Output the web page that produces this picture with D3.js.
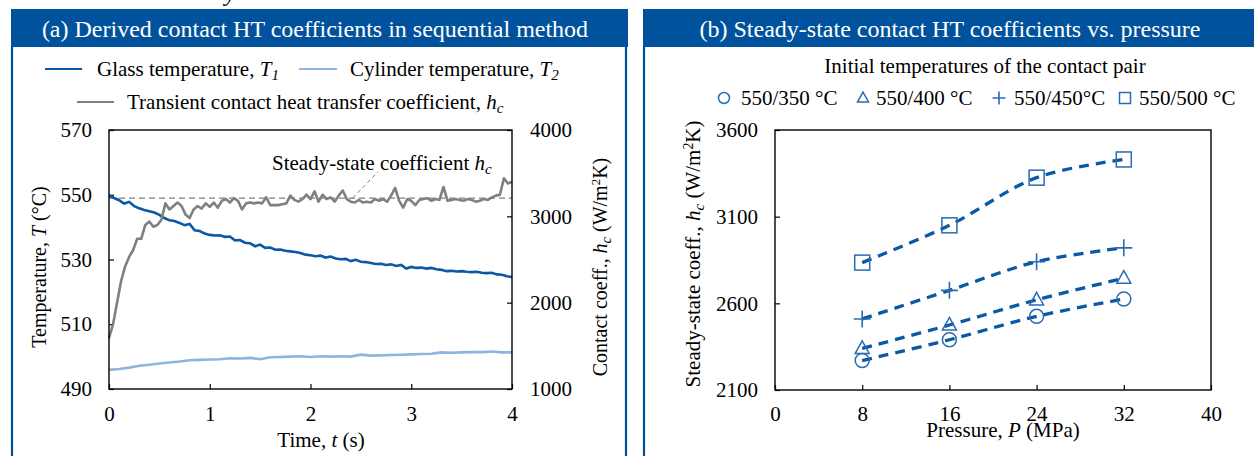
<!DOCTYPE html>
<html><head><meta charset="utf-8">
<script src="https://cdn.jsdelivr.net/npm/d3@7"></script>
<style>
body{margin:0;background:#fff;}
svg{display:block;font-family:"Liberation Serif","Times New Roman",serif;}
</style></head><body>
<svg id="c" width="1254" height="456"></svg>
<script>
// ---------- Panel (a) data ----------
const hcStep = 0.04; // s
const hcValues = [1590,1750,2000,2250,2420,2530,2610,2740,2740,2900,2940,2880,2900,2960,3150,3080,3120,3160,3120,3020,
  2980,3080,3120,3090,3150,3110,3160,3100,3180,3200,3160,3210,3180,3080,3150,3160,3150,3160,3150,3220,
  3130,3130,3130,3140,3150,3240,3190,3170,3200,3250,3200,3290,3170,3250,3200,3220,3170,3240,3300,3200,
  3170,3160,3190,3160,3170,3160,3200,3180,3200,3170,3240,3330,3180,3100,3200,3180,3130,3190,3200,3210,
  3180,3200,3190,3340,3180,3190,3200,3190,3180,3200,3190,3170,3180,3200,3190,3220,3240,3250,3440,3380,3400];
const glassStep = 0.05;
const glassTemp = [549.8,549.0,548.3,547.3,547.8,546.5,545.8,545.3,544.9,544.5,543.8,542.8,542.1,541.9,541.3,540.6,541.0,539.0,538.8,538.0,
  537.6,537.4,537.5,537.0,537.1,535.9,536.0,535.2,535.0,534.1,534.6,533.6,533.7,533.0,533.1,532.7,532.5,532.3,532.0,531.5,
  531.3,531.0,531.2,530.6,530.9,530.3,530.1,530.2,529.5,529.9,529.3,529.2,528.9,528.6,528.7,528.3,528.5,528.0,528.3,527.2,
  527.7,527.4,527.5,527.2,527.4,527.0,526.8,526.4,526.5,526.3,526.4,526.2,526.1,526.2,525.9,525.8,525.9,525.4,525.3,524.8,524.6];
const cylStep = 0.1;
const cylTemp = [495.9,496.2,496.6,497.2,497.5,497.9,498.2,498.5,498.9,499.0,499.1,499.2,499.5,499.4,499.6,499.2,499.8,499.9,500.0,500.1,
  499.9,500.1,500.0,500.1,500.0,500.6,500.3,500.4,500.5,500.6,500.7,500.8,500.9,501.3,501.2,501.3,501.4,501.4,501.6,501.3,501.3];
const steadyHc = 3210;
const timeTicks = [0,1,2,3,4];
const tempTicks = [490,510,530,550,570];
const hcTicks = [1000,2000,3000,4000];

// ---------- Panel (b) data ----------
const pressures = [8,16,24,32];
const hc350 = [2270,2390,2525,2625];
const hc400 = [2340,2475,2620,2745];
const hc450 = [2510,2675,2840,2920];
const hc500 = [2835,3050,3325,3430];
const pressureTicks = [0,8,16,24,32,40];
const steadyTicks = [2100,2600,3100,3600];
const seriesLabels = ["550/350 °C","550/400 °C","550/450°C","550/500 °C"];

const HEAD = "#00529c";
const DARK = "#0a58a6";
const LIGHT = "#8fb4df";
const GRAY = "#808080";
const MARK = "#2a6bb3";
const FONT = 21;

const svg = d3.select("#c");

// stray glyph at top (cropped text above)
svg.append("text").attr("x",225).attr("y",1).attr("font-size",24).attr("font-style","italic").text("y");

// ---------- frames ----------
function frame(x0, x1, title, cx){
  svg.append("rect").attr("x",x0).attr("y",9).attr("width",x1-x0).attr("height",38).attr("fill",HEAD);
  svg.append("line").attr("x1",x0+1).attr("x2",x0+1).attr("y1",46).attr("y2",456).attr("stroke",HEAD).attr("stroke-width",2.2);
  svg.append("text").attr("x",cx).attr("y",37).attr("text-anchor","middle").attr("fill","#fff").attr("font-size",24).text(title);
}
frame(11, 628, "(a) Derived contact HT coefficients in sequential method", 315);
svg.append("line").attr("x1",626).attr("x2",626).attr("y1",46).attr("y2",456).attr("stroke",HEAD).attr("stroke-width",2.2);
frame(643, 1254, "(b) Steady-state contact HT coefficients vs. pressure", 950);

// helper for rich text with italics/subscripts
function rich(g, x, y, parts, opts={}){
  const size = opts.size||21;
  const t = g.append("text").attr("x",x).attr("y",y).attr("font-size",size);
  if(opts.anchor) t.attr("text-anchor",opts.anchor);
  if(opts.transform) t.attr("transform",opts.transform);
  parts.forEach(p=>{
    const s = t.append("tspan").text(p.t);
    if(p.i) s.attr("font-style","italic");
    if(p.sub) s.attr("baseline-shift","-25%").attr("font-size",size*0.72);
    if(p.sup) s.attr("baseline-shift","super").attr("font-size",size*0.65);
  });
  return t;
}

// ---------- Panel (a) ----------
const ax = {l:109, r:512, t:130, b:389};
const x = d3.scaleLinear().domain([0,4]).range([ax.l, ax.r]);
const yT = d3.scaleLinear().domain([490,570]).range([ax.b, ax.t]);
const yH = d3.scaleLinear().domain([1000,4000]).range([ax.b, ax.t]);
const ga = svg.append("g");

function styleAxis(g){
  g.select(".domain").remove();
  g.selectAll(".tick line").attr("stroke","#000").attr("stroke-width",1.2);
  g.selectAll(".tick text").attr("font-size",FONT).attr("font-family","Liberation Serif").attr("fill","#000");
}
ga.append("g").attr("transform",`translate(0,${ax.b})`)
  .call(d3.axisBottom(x).tickValues(timeTicks).tickFormat(d3.format("d")).tickSizeInner(-5).tickSizeOuter(0).tickPadding(17)).call(styleAxis);
ga.append("g").attr("transform",`translate(${ax.l},0)`)
  .call(d3.axisLeft(yT).tickValues(tempTicks).tickFormat(d3.format("d")).tickSizeInner(-5).tickSizeOuter(0).tickPadding(17)).call(styleAxis);
ga.append("g").attr("transform",`translate(${ax.r},0)`)
  .call(d3.axisRight(yH).tickValues(hcTicks).tickFormat(d3.format("d")).tickSizeInner(-5).tickSizeOuter(0).tickPadding(18)).call(styleAxis);

// steady-state dashed line
ga.append("line").attr("x1",x(0)).attr("x2",x(4)).attr("y1",yH(steadyHc)).attr("y2",yH(steadyHc))
  .attr("stroke",GRAY).attr("stroke-width",1.2).attr("stroke-dasharray","6,4");

const hcData = hcValues.map((v,i)=>[i*hcStep, v]);
const glassData = glassTemp.map((v,i)=>[i*glassStep, v]);
const cylData = cylTemp.map((v,i)=>[i*cylStep, v]);

ga.append("path").datum(cylData).attr("fill","none").attr("stroke",LIGHT).attr("stroke-width",2.6)
  .attr("d", d3.line().x(d=>x(d[0])).y(d=>yT(d[1])));
ga.append("path").datum(glassData).attr("fill","none").attr("stroke",DARK).attr("stroke-width",2.6)
  .attr("d", d3.line().x(d=>x(d[0])).y(d=>yT(d[1])));
ga.append("path").datum(hcData).attr("fill","none").attr("stroke",GRAY).attr("stroke-width",2.6).attr("stroke-linejoin","round")
  .attr("d", d3.line().x(d=>x(d[0])).y(d=>yH(d[1])));

// annotation
ga.append("line").attr("x1",x(2.42)).attr("y1",yH(3214)).attr("x2",x(2.67)).attr("y2",yH(3515))
  .attr("stroke",GRAY).attr("stroke-width",1).attr("stroke-dasharray","4,3");
rich(ga, 272, 170, [{t:"Steady-state coefficient "},{t:"h",i:1},{t:"c",i:1,sub:1}]);

// frame
ga.append("rect").attr("x",ax.l).attr("y",ax.t).attr("width",ax.r-ax.l).attr("height",ax.b-ax.t)
  .attr("fill","none").attr("stroke","#000").attr("stroke-width",1.4);

// axis titles
rich(ga, 321, 447, [{t:"Time, "},{t:"t",i:1},{t:" (s)"}], {anchor:"middle"});
rich(ga, 0, 0, [{t:"Temperature, "},{t:"T",i:1},{t:" (°C)"}], {size:20, anchor:"middle", transform:"translate(46,267) rotate(-90)"});
rich(ga, 0, 0, [{t:"Contact coeff., "},{t:"h",i:1},{t:"c",i:1,sub:1},{t:" (W/m"},{t:"2",sup:1},{t:"K)"}], {size:20, anchor:"middle", transform:"translate(607,267) rotate(-90)"});

// legend (a)
function legLine(x1,x2,y,c){ ga.append("line").attr("x1",x1).attr("x2",x2).attr("y1",y).attr("y2",y).attr("stroke",c).attr("stroke-width",2.2); }
legLine(45,82,69,DARK);
rich(ga, 97, 76, [{t:"Glass temperature, "},{t:"T",i:1},{t:"1",i:1,sub:1}]);
legLine(299,337,69,LIGHT);
rich(ga, 350, 76, [{t:"Cylinder temperature, "},{t:"T",i:1},{t:"2",i:1,sub:1}]);
legLine(77,114,102,GRAY);
rich(ga, 127, 109, [{t:"Transient contact heat transfer coefficient, "},{t:"h",i:1},{t:"c",i:1,sub:1}]);

// ---------- Panel (b) ----------
const bx = {l:775, r:1211, t:130, b:390};
const xP = d3.scaleLinear().domain([0,40]).range([bx.l, bx.r]);
const yS = d3.scaleLinear().domain([2100,3600]).range([bx.b, bx.t]);
const gb = svg.append("g");
gb.append("g").attr("transform",`translate(0,${bx.b})`)
  .call(d3.axisBottom(xP).tickValues(pressureTicks).tickFormat(d3.format("d")).tickSizeInner(-5).tickSizeOuter(0).tickPadding(16)).call(styleAxis);
gb.append("g").attr("transform",`translate(${bx.l},0)`)
  .call(d3.axisLeft(yS).tickValues(steadyTicks).tickFormat(d3.format("d")).tickSizeInner(-5).tickSizeOuter(0).tickPadding(17)).call(styleAxis);

const seriesB = [hc350,hc400,hc450,hc500];
const line = d3.line().x((d,i)=>xP(pressures[i])).y(d=>yS(d)).curve(d3.curveCatmullRom.alpha(0.5));

function marker(g, k, cx, cy, s){
  if(k===0){ g.append("circle").attr("cx",cx).attr("cy",cy).attr("r",s/2).attr("fill","none").attr("stroke",MARK).attr("stroke-width",1.5); }
  else if(k===1){ const h=s*0.9; g.append("path").attr("d",`M${cx},${cy-h*0.6}L${cx+s/2},${cy+h*0.4}L${cx-s/2},${cy+h*0.4}Z`).attr("fill","none").attr("stroke",MARK).attr("stroke-width",1.5); }
  else if(k===2){ g.append("path").attr("d",`M${cx-s/2},${cy}H${cx+s/2}M${cx},${cy-s/2}V${cy+s/2}`).attr("stroke",MARK).attr("stroke-width",1.6); }
  else { g.append("rect").attr("x",cx-s/2).attr("y",cy-s/2).attr("width",s).attr("height",s).attr("fill","none").attr("stroke",MARK).attr("stroke-width",1.5); }
}

seriesB.forEach((vals,k)=>{
  gb.append("path").datum(vals).attr("fill","none").attr("stroke",DARK).attr("stroke-width",3.3)
    .attr("stroke-dasharray","10,7").attr("d",line);
  vals.forEach((v,i)=> marker(gb,k,xP(pressures[i]),yS(v),k===3?15:(k===2?17:14)));
});

gb.append("rect").attr("x",bx.l).attr("y",bx.t).attr("width",bx.r-bx.l).attr("height",bx.b-bx.t)
  .attr("fill","none").attr("stroke","#000").attr("stroke-width",1.4);

rich(gb, 1003, 437, [{t:"Pressure, "},{t:"P",i:1},{t:" (MPa)"}], {anchor:"middle"});
rich(gb, 0, 0, [{t:"Steady-state coeff., "},{t:"h",i:1},{t:"c",i:1,sub:1},{t:" (W/m"},{t:"2",sup:1},{t:"K)"}], {anchor:"middle", transform:"translate(700,254) rotate(-90)"});

// legend (b)
gb.append("text").attr("x",985).attr("y",73).attr("text-anchor","middle").attr("font-size",21).text("Initial temperatures of the contact pair");
const legX = [724,863,999,1125];
const legTX = [741,876,1014,1139];
seriesLabels.forEach((lab,k)=>{
  marker(gb,k,legX[k],98,k===2?13:11);
  gb.append("text").attr("x",legTX[k]).attr("y",105).attr("font-size",21).text(lab);
});
</script>
</body></html>
